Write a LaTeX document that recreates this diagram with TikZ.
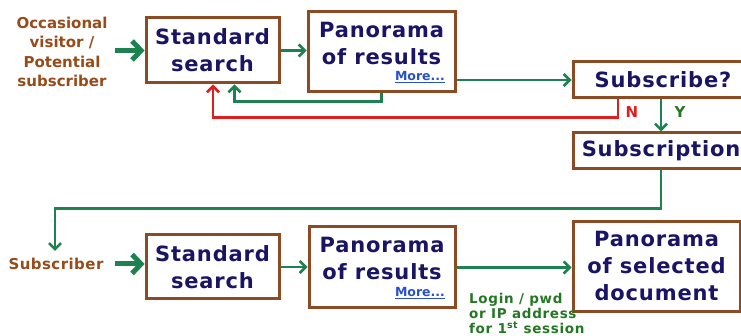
\documentclass[tikz,border=0pt]{standalone}
\usepackage{fontspec}
\setmainfont{DejaVu Sans}
\usetikzlibrary{arrows.meta}
\definecolor{boxbrown}{RGB}{140,75,35}
\definecolor{navy}{RGB}{25,20,100}
\definecolor{flowgreen}{RGB}{30,130,80}
\definecolor{flowred}{RGB}{225,30,30}
\definecolor{labbrown}{RGB}{150,75,25}
\definecolor{linkblue}{RGB}{40,80,200}
\definecolor{logingreen}{RGB}{35,120,35}
\tikzset{
  box/.style={draw=boxbrown, line width=3pt, fill=white, inner sep=0pt},
  boxtext/.style={text=navy, font=\bfseries\fontsize{21}{27}\selectfont\addfontfeatures{LetterSpace=4}, align=center, inner sep=0pt},
  lab/.style={text=labbrown, font=\bfseries\fontsize{15}{19.5}\selectfont, align=center, inner sep=0pt},
  more/.style={text=linkblue, font=\bfseries\fontsize{12.5}{14}\selectfont, inner sep=0pt},
  gline/.style={draw=flowgreen, line width=2.6pt, -{Straight Barb[length=6pt,width=12pt,line width=2.6pt]}},
  rline/.style={draw=flowred, line width=2.6pt, -{Straight Barb[length=6pt,width=12pt,line width=2.6pt]}},
  thick arrow/.style={draw=flowgreen, line width=5pt, -{Straight Barb[length=9pt,width=19pt,line width=5pt]}},
  small/.style={font=\bfseries\fontsize{13.5}{15}\selectfont\addfontfeatures{LetterSpace=5}, inner sep=0pt},
  yn/.style={font=\bfseries\fontsize{15}{15}\selectfont, inner sep=0pt}
}
\begin{document}
\begin{tikzpicture}[x=1pt,y=-1pt]
\useasboundingbox (0,0) rectangle (741,336);
% top row
\node[lab] (visitor) at (62,52) {Occasional\\visitor /\\Potential\\subscriber};
\node[box, minimum width=133pt, minimum height=65pt] (s1) at (212.5,50.5) {};
\node[boxtext] at (s1.center) {Standard\\search};
\node[box, minimum width=147pt, minimum height=80pt] (p1) at (381.5,52) {};
\node[boxtext] at (381.5,43) {Panorama\\of results};
\node[more] (m1) at (420,77.5) {\underline{More...}};
\node[box, minimum width=169pt, minimum height=36pt] (sub) at (657.5,80) {};
\node[boxtext] at (663,80) {Subscribe?};
\node[box, minimum width=169pt, minimum height=36pt] (subn) at (658,151) {};
\node[boxtext] at (661,151) {Subscription};
% bottom row
\node[lab, font=\bfseries\fontsize{15}{19.5}\selectfont\addfontfeatures{LetterSpace=3}] (subscriber) at (56,264) {Subscriber};
\node[box, minimum width=133pt, minimum height=64pt] (s2) at (212.5,267) {};
\node[boxtext] at (s2.center) {Standard\\search};
\node[box, minimum width=146pt, minimum height=81pt] (p2) at (382,267.5) {};
\node[boxtext] at (382,258) {Panorama\\of results};
\node[more] (m2) at (420,293.5) {\underline{More...}};
\node[box, minimum width=167pt, minimum height=90pt] (doc) at (656.5,267) {};
\node[boxtext] at (656.5,266) {Panorama\\of selected\\document};
\node[small, text=logingreen, align=left, anchor=north west] (login) at (469,293) {Login / pwd\\or IP address\\for 1\textsuperscript{st} session};
\node[yn, text=flowred] (nlab) at (632,112) {N};
\node[yn, text=logingreen] (ylab) at (680,112) {Y};
% coordinates
\coordinate (yx) at (661,0);
\coordinate (subtip) at (55,251);
% connectors
\draw[thick arrow] ([xshift=53pt]visitor.center |- s1.west) -- (s1.west);
\draw[gline] (s1.east) -- (s1.east -| p1.west);
\draw[gline] (p1.east |- sub.west) -- (sub.west);
\draw[gline] (p1.south) -- ++(0,8) -| ([xshift=22pt]s1.south);
\draw[rline] ([xshift=-39.5pt]sub.south) -- ++(0,18) -| ([xshift=0.5pt]s1.south);
\draw[gline] (sub.south -| yx) -- (subn.north -| yx);
\draw[gline] (subn.south -| yx) -- ++(0,38) -| (subtip);
\draw[thick arrow] ([xshift=59pt]subscriber.center) -- (subscriber.center -| s2.west);
\draw[gline] (s2.east) -- (s2.east -| p2.west);
\draw[gline] (p2.east) -- (p2.east -| doc.west);
\end{tikzpicture}
\end{document}
